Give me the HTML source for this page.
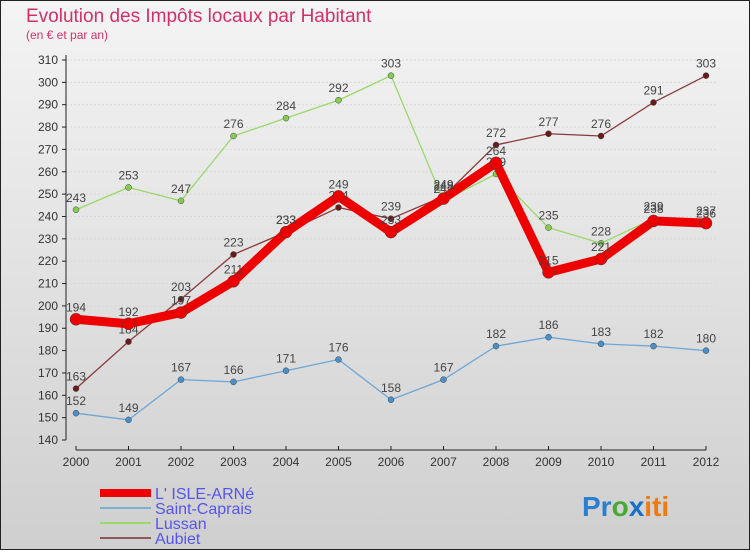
<!DOCTYPE html>
<html><head><meta charset="utf-8"><style>
body{margin:0;width:750px;height:550px;overflow:hidden;font-family:"Liberation Sans",sans-serif}
</style></head><body>
<svg width="750" height="550" id="c">
<defs><linearGradient id="bg" x1="0" y1="0" x2="0" y2="1"><stop offset="0" stop-color="#f4f4f4"/><stop offset="1" stop-color="#cfcfcf"/></linearGradient></defs>
<rect x="0.5" y="0.5" width="749" height="549" fill="url(#bg)" stroke="#222"/>
<text x="26" y="22" font-size="19" fill="#d2306a">Evolution des Impôts locaux par Habitant</text>
<text x="26" y="39" font-size="12" fill="#d2306a">(en € et par an)</text>
<g id="axes"></g><g id="series"></g>
<g font-size="16" fill="#5555ee">
<rect x="100" y="489" width="51" height="8" fill="#e00"/>
<text x="155" y="499">L' ISLE-ARNé</text>
<rect x="100" y="507" width="51" height="2" fill="#7aaed2"/>
<text x="155" y="514">Saint-Caprais</text>
<rect x="100" y="522" width="51" height="2" fill="#9ad86a"/>
<text x="155" y="529">Lussan</text>
<rect x="100" y="537" width="51" height="2" fill="#8a5a5a"/>
<text x="155" y="544">Aubiet</text>
</g>
<text x="582" y="516" font-size="28" font-weight="bold"><tspan fill="#2a7fd0">Pr</tspan><tspan fill="#44aa33">o</tspan><tspan fill="#1a6fcc">x</tspan><tspan fill="#f07a10">iti</tspan></text>
</svg>
<script>
const years=["2000","2001","2002","2003","2004","2005","2006","2007","2008","2009","2010","2011","2012"];
const yTicks=[140,150,160,170,180,190,200,210,220,230,240,250,260,270,280,290,300,310];
const lisle=[194,192,197,211,233,249,233,248,264,215,221,238,237];
const saintCaprais=[152,149,167,166,171,176,158,167,182,186,183,182,180];
const lussan=[243,253,247,276,284,292,303,247,259,235,228,239,236];
const aubiet=[163,184,203,223,233,244,239,249,272,277,276,291,303];
const NS="http://www.w3.org/2000/svg";
const X=i=>76+i*52.5, Y=v=>440-(v-140)*380/170;
function mk(t,a,p){const e=document.createElementNS(NS,t);for(const k in a)e.setAttribute(k,a[k]);p.appendChild(e);return e;}
const ax=document.getElementById('axes');
yTicks.forEach(v=>{
 const g=mk('line',{x1:66,x2:717,y1:Y(v),y2:Y(v),stroke:'#d8d8d8','stroke-dasharray':'2,2'},ax);
 
 
 const tk=mk('line',{x1:62,x2:66,y1:Y(v),y2:Y(v),stroke:'#222'},ax);
 
 
 const t=mk('text',{x:58,y:Y(v)+4,'text-anchor':'end','font-size':12,fill:'#333'},ax);t.textContent=v;
 
 
});
const yl=mk('line',{x1:66,x2:66,y1:Y(310)-5,y2:Y(140),stroke:'#222'},ax);


const xl=mk('line',{x1:X(0),x2:X(12),y1:450,y2:450,stroke:'#222'},ax);


years.forEach((y,i)=>{
 const tk=mk('line',{x1:X(i),x2:X(i),y1:446,y2:450,stroke:'#222'},ax);
 
 
 const t=mk('text',{x:X(i),y:466,'text-anchor':'middle','font-size':12,fill:'#333'},ax);t.textContent=y;
 
 
});
const sg=document.getElementById('series');
function series(name,data,color,w,r,dot){
 const g=mk('g',{},sg);
 
 
 const p=mk('polyline',{points:data.map((v,i)=>X(i)+','+Y(v)).join(' '),fill:'none',stroke:color,'stroke-width':w,'stroke-linejoin':'round'},g);
 
 
 data.forEach((v,i)=>{
  const c=mk('circle',{cx:X(i),cy:Y(v),r:r,fill:dot,stroke:'#444','stroke-width':0.5},g);
  
  
  const t=mk('text',{x:X(i),y:Y(v)-8,'text-anchor':'middle','font-size':12,fill:'#444'},g);t.textContent=v;
  
  
 });
}
series('saint-caprais',saintCaprais,'#6fa6d6',1.3,3,'#4a8fc8');
series('lussan',lussan,'#9ad86a',1.3,3,'#86cc50');
series('aubiet',aubiet,'#8a3a3a',1.3,3,'#6a1a1a');
series('lisle',lisle,'#ee0000',9,6,'#ee0000');
</script>
</body></html>
